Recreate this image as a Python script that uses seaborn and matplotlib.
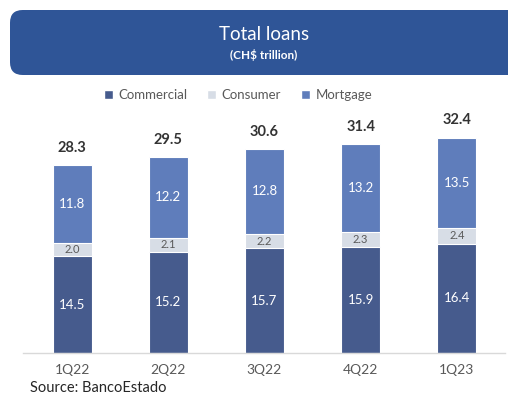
import matplotlib
matplotlib.use("Agg")
import matplotlib.pyplot as plt
from matplotlib.patches import FancyBboxPatch, Patch
import numpy as np
import pandas as pd
import seaborn as sns

quarters = ["1Q22", "2Q22", "3Q22", "4Q22", "1Q23"]
commercial = [14.5, 15.2, 15.7, 15.9, 16.4]
consumer = [2.0, 2.1, 2.2, 2.3, 2.4]
mortgage = [11.8, 12.2, 12.8, 13.2, 13.5]
totals = [28.3, 29.5, 30.6, 31.4, 32.4]

c_com = "#465B8D"
c_con = "#D7DDE6"
c_mor = "#5F7DBB"

sns.set_theme(style="white")
plt.rcParams["font.family"] = ["Lato", "DejaVu Sans"]

df = pd.DataFrame({
    "quarter": quarters,
    "commercial": commercial,
    "consumer": consumer,
    "mortgage": mortgage,
})
df["lvl1"] = df["commercial"]
df["lvl2"] = df["commercial"] + df["consumer"]
df["lvl3"] = df["lvl2"] + df["mortgage"]

fig = plt.figure(figsize=(5.08, 3.96), dpi=100)

# header banner
banner = FancyBboxPatch((10 / 508, 1 - 75 / 396), 560 / 508, 65 / 396,
                        boxstyle="round,pad=0,rounding_size=0.025",
                        transform=fig.transFigure, facecolor="#2F5597",
                        edgecolor="none", mutation_aspect=508 / 396)
fig.patches.append(banner)
fig.text(264 / 508, 1 - 34 / 396, "Total loans", color="white",
         fontsize=13.5, ha="center", va="center")
fig.text(264 / 508, 1 - 55 / 396, "(CH$ trillion)", color="white",
         fontsize=8.5, fontweight="bold", ha="center", va="center")

ax = fig.add_axes([23 / 508, 43 / 396, 482 / 508, 233 / 396])

width = 0.405
for col, color in [("lvl3", c_mor), ("lvl2", c_con), ("lvl1", c_com)]:
    sns.barplot(data=df, x="quarter", y=col, color=color, width=width,
                edgecolor="white", linewidth=0.8, ax=ax, saturation=1)

x = np.arange(len(quarters))
for i in range(len(quarters)):
    ax.text(x[i], commercial[i] / 2, f"{commercial[i]:.1f}", ha="center",
            va="center", color="white", fontsize=9.5)
    ax.text(x[i], commercial[i] + consumer[i] / 2, f"{consumer[i]:.1f}",
            ha="center", va="center", color="#595959", fontsize=8)
    ax.text(x[i], commercial[i] + consumer[i] + mortgage[i] / 2,
            f"{mortgage[i]:.1f}", ha="center", va="center", color="white",
            fontsize=9.5)
    ax.text(x[i], totals[i] + 1.5, f"{totals[i]:.1f}", ha="center",
            va="bottom", color="#333333", fontsize=10.5, fontweight="bold")

ax.set_xlim(-0.51, 4.5)
ax.set_ylim(0, 35)
ax.set_xlabel("")
ax.set_ylabel("")
ax.set_yticks([])
ax.tick_params(axis="x", length=0, pad=8, labelsize=10, labelcolor="#595959")
for s in ["top", "right", "left"]:
    ax.spines[s].set_visible(False)
ax.spines["bottom"].set_color("#D9D9D9")
ax.spines["bottom"].set_linewidth(1)

handles = [Patch(facecolor=c_com, label="Commercial"),
           Patch(facecolor=c_con, label="Consumer"),
           Patch(facecolor=c_mor, label="Mortgage")]
fig.legend(handles=handles, loc="center", bbox_to_anchor=(238 / 508, 1 - 95 / 396),
           ncol=3, frameon=False, fontsize=9.5, labelcolor="#595959",
           handlelength=0.7, handleheight=0.7, handletextpad=0.4,
           columnspacing=1.5)

fig.text(30 / 508, 1 - 381 / 396, "Source: BancoEstado", color="#262626",
         fontsize=10.5, ha="left", va="top")

fig.savefig("out.png", dpi=100)
